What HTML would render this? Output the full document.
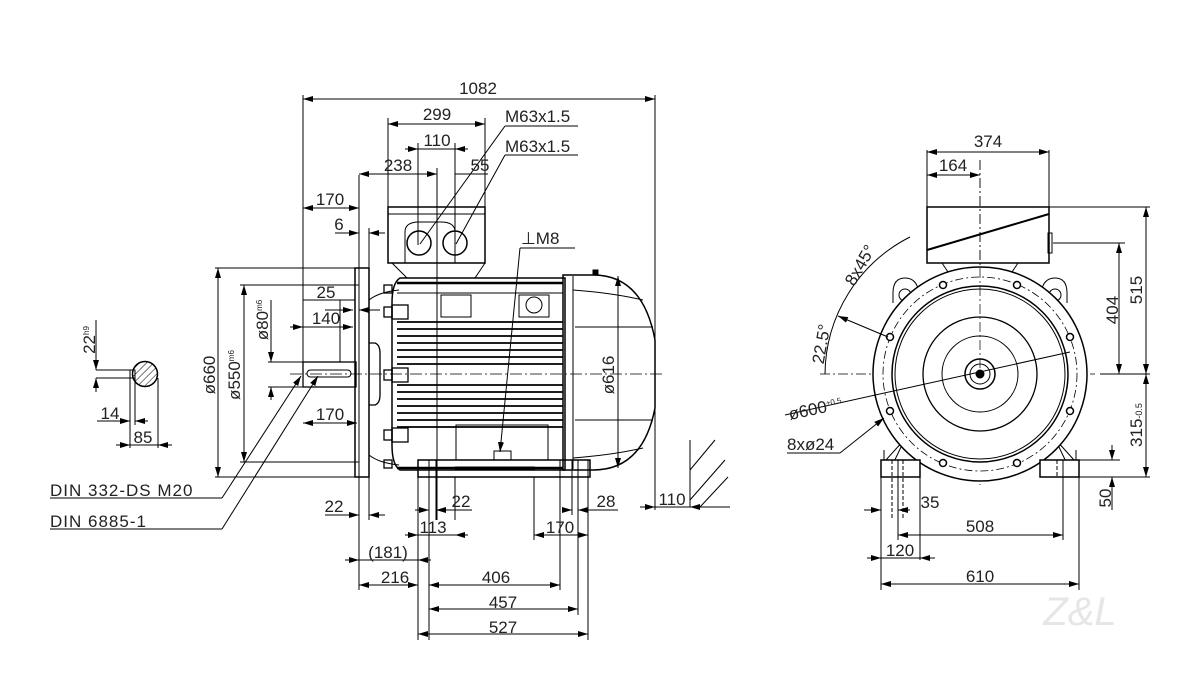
<!DOCTYPE html>
<html><head><meta charset="utf-8"><style>
html,body{margin:0;padding:0;background:#fff}
svg{display:block}
text{font-family:"Liberation Sans",sans-serif;font-size:17px;fill:#222;font-weight:normal}
</style></head><body>
<svg width="1200" height="680" viewBox="0 0 1200 680" xmlns="http://www.w3.org/2000/svg">
<defs>
<marker id="a" viewBox="0 0 10 6" refX="10" refY="3" markerWidth="10" markerHeight="6" orient="auto-start-reverse" markerUnits="userSpaceOnUse"><path d="M0,0L10,3L0,6z" fill="#000"/></marker>
<pattern id="h" width="5" height="5" patternUnits="userSpaceOnUse" patternTransform="rotate(45)"><line x1="0" y1="0" x2="0" y2="5" stroke="#000" stroke-width="1"/></pattern>
</defs>
<g stroke="#000" fill="none" stroke-width="1">
<!-- extension lines left view -->
<line x1="303" y1="95" x2="303" y2="380"/>
<line x1="655" y1="95" x2="655" y2="510"/>
<line x1="388" y1="118" x2="388" y2="207"/>
<line x1="485" y1="118" x2="485" y2="207"/>
<line x1="418" y1="143" x2="418" y2="245"/>
<line x1="455" y1="143" x2="455" y2="245"/>
<line x1="437" y1="168" x2="437" y2="520"/>
<line x1="359" y1="175" x2="359" y2="590"/>
<line x1="369" y1="228" x2="369" y2="520"/>
<!-- dims top -->
<line x1="303" y1="99" x2="655" y2="99" marker-start="url(#a)" marker-end="url(#a)"/>
<line x1="388" y1="124" x2="485" y2="124" marker-start="url(#a)" marker-end="url(#a)"/>
<line x1="405" y1="149" x2="418" y2="149" marker-end="url(#a)"/><line x1="468" y1="149" x2="455" y2="149" marker-end="url(#a)"/><line x1="418" y1="149" x2="455" y2="149"/>
<line x1="359" y1="174" x2="437" y2="174" marker-start="url(#a)" marker-end="url(#a)"/>
<line x1="455" y1="174" x2="488" y2="174"/>
<line x1="303" y1="208" x2="359" y2="208" marker-start="url(#a)" marker-end="url(#a)"/>
<line x1="335" y1="233" x2="359" y2="233" marker-end="url(#a)"/><line x1="385" y1="233" x2="369" y2="233" marker-end="url(#a)"/>
<line x1="505" y1="126" x2="578" y2="126"/><line x1="505" y1="126" x2="420" y2="244"/>
<line x1="505" y1="155" x2="578" y2="155"/><line x1="505" y1="155" x2="456" y2="244"/>
<line x1="520" y1="248" x2="575" y2="248"/><line x1="520" y1="248" x2="500" y2="452" marker-end="url(#a)"/>
<!-- left dims -->
<line x1="215" y1="268" x2="359" y2="268"/>
<line x1="215" y1="477" x2="359" y2="477"/>
<line x1="218" y1="268" x2="218" y2="477" marker-start="url(#a)" marker-end="url(#a)"/>
<line x1="240" y1="285" x2="359" y2="285"/>
<line x1="240" y1="462" x2="359" y2="462"/>
<line x1="244" y1="285" x2="244" y2="462" marker-start="url(#a)" marker-end="url(#a)"/>
<line x1="268" y1="362" x2="303" y2="362"/><line x1="268" y1="387" x2="303" y2="387"/>
<line x1="271" y1="300" x2="271" y2="362" marker-end="url(#a)"/><line x1="271" y1="400" x2="271" y2="387" marker-end="url(#a)"/>
<line x1="303" y1="300" x2="355" y2="300"/>
<line x1="300" y1="327" x2="353" y2="327" marker-end="url(#a)"/><line x1="290" y1="327" x2="303" y2="327" marker-end="url(#a)"/>
<line x1="325" y1="310" x2="353" y2="310" marker-end="url(#a)"/><line x1="380" y1="310" x2="359" y2="310" marker-end="url(#a)"/>
<line x1="303" y1="423" x2="357" y2="423" marker-start="url(#a)" marker-end="url(#a)"/>
<line x1="340" y1="300" x2="340" y2="362"/>
<line x1="50" y1="498" x2="222" y2="498"/><line x1="222" y1="498" x2="301" y2="376" marker-end="url(#a)"/>
<line x1="50" y1="529" x2="222" y2="529"/><line x1="222" y1="529" x2="318" y2="376" marker-end="url(#a)"/>
<!-- key section -->
<circle cx="145" cy="374" r="12.5" fill="url(#h)" stroke-width="1.5"/>
<rect x="130" y="370" width="5" height="8"/>
<line x1="96" y1="370" x2="131" y2="370"/><line x1="96" y1="378" x2="131" y2="378"/>
<line x1="96" y1="320" x2="96" y2="370" marker-end="url(#a)"/><line x1="96" y1="392" x2="96" y2="378" marker-end="url(#a)"/>
<line x1="130" y1="378" x2="130" y2="448"/><line x1="135" y1="378" x2="135" y2="425"/><line x1="158" y1="378" x2="158" y2="448"/>
<line x1="97" y1="421" x2="130" y2="421" marker-end="url(#a)"/><line x1="148" y1="421" x2="135" y2="421" marker-end="url(#a)"/>
<line x1="116" y1="445" x2="130" y2="445" marker-end="url(#a)"/><line x1="172" y1="445" x2="158" y2="445" marker-end="url(#a)"/><line x1="130" y1="445" x2="158" y2="445"/>
<!-- motor left view -->
<line x1="290" y1="374" x2="665" y2="374" stroke-dasharray="12,3,2,3" stroke-width="0.7"/>
<rect x="303" y="362" width="53" height="25" stroke-width="1.3"/>
<rect x="307" y="370" width="44" height="7" rx="3.5"/>
<rect x="355" y="268" width="14" height="209" stroke-width="1.5"/>
<path d="M369 343 h6 q5 2 5 10 v42 q0 8 -5 10 h-6" stroke-width="1.3"/>
<path d="M369 300 q10 -8 30 -10 M369 455 q10 8 30 10"/>
<rect x="388" y="207" width="97" height="56" stroke-width="1.5"/>
<line x1="388" y1="214" x2="485" y2="214"/>
<path d="M405 263 V232 q0-10 14-10 h22 q14 0 14 10 v31"/>
<circle cx="419" cy="243" r="12" stroke-width="1.5"/><circle cx="455" cy="243" r="12" stroke-width="1.5"/>
<path d="M392 263 l15 15 h68 l10 -15"/>
<path d="M400 278 h165 v192 h-165 q-8-5-8-25 v-142 q0-20 8-25z" stroke-width="1.5"/>
<g stroke-width="1.8">
<line x1="397" y1="322" x2="563" y2="322"/><line x1="397" y1="329" x2="563" y2="329"/><line x1="397" y1="336" x2="563" y2="336"/><line x1="397" y1="343" x2="563" y2="343"/><line x1="397" y1="350" x2="563" y2="350"/><line x1="397" y1="357" x2="563" y2="357"/><line x1="397" y1="364" x2="563" y2="364"/><line x1="397" y1="385" x2="563" y2="385"/><line x1="397" y1="392" x2="563" y2="392"/><line x1="397" y1="399" x2="563" y2="399"/><line x1="397" y1="406" x2="563" y2="406"/><line x1="397" y1="413" x2="563" y2="413"/><line x1="397" y1="420" x2="563" y2="420"/><line x1="397" y1="427" x2="563" y2="427"/>
</g>
<line x1="397" y1="283" x2="563" y2="283" stroke-width="2.5"/>
<line x1="397" y1="293" x2="563" y2="293"/>
<rect x="441" y="295" width="30" height="22"/><rect x="519" y="295" width="30" height="22"/>
<circle cx="534" cy="305" r="8"/>
<line x1="397" y1="468" x2="563" y2="468" stroke-width="2.5"/>
<rect x="456" y="425" width="92" height="35"/>
<rect x="494" y="451" width="17" height="9"/>
<g stroke-width="1.3">
<rect x="384" y="285" width="8" height="8"/><rect x="384" y="307" width="8" height="10"/><rect x="392" y="305" width="16" height="14"/>
<rect x="384" y="370" width="8" height="10"/><rect x="392" y="368" width="16" height="14"/>
<rect x="384" y="430" width="8" height="10"/><rect x="392" y="428" width="16" height="14"/>
<rect x="384" y="460" width="8" height="8"/>
</g>
<path d="M563 275 h30 q50 0 62 65 v68 q-12 62 -62 62 h-30z" stroke-width="1.5"/>
<line x1="573" y1="276" x2="573" y2="469"/>
<path d="M573 290 q40 3 70 10 M573 458 q40 -3 70 -10"/>
<line x1="575" y1="327" x2="653" y2="327"/><line x1="575" y1="420" x2="653" y2="420"/>
<rect x="593" y="270" width="5" height="5" fill="#000"/>
<line x1="618" y1="276" x2="618" y2="468" marker-start="url(#a)" marker-end="url(#a)"/>
<rect x="418" y="460" width="172" height="17" stroke-width="1.5"/>
<line x1="455" y1="468" x2="535" y2="468" stroke-width="3"/>
<line x1="429" y1="460" x2="429" y2="540"/><line x1="436" y1="460" x2="436" y2="520"/>
<line x1="455" y1="477" x2="455" y2="520"/><line x1="418" y1="477" x2="418" y2="640"/>
<line x1="534" y1="477" x2="534" y2="540"/><line x1="560" y1="460" x2="560" y2="590"/><line x1="572" y1="460" x2="572" y2="515"/><line x1="578" y1="460" x2="578" y2="615"/><line x1="588" y1="460" x2="588" y2="640"/>
<line x1="429" y1="477" x2="429" y2="640"/>
<!-- bottom dims -->
<line x1="325" y1="515" x2="359" y2="515" marker-end="url(#a)"/><line x1="385" y1="515" x2="369" y2="515" marker-end="url(#a)"/>
<line x1="415" y1="510" x2="429" y2="510" marker-end="url(#a)"/><line x1="460" y1="510" x2="436" y2="510" marker-end="url(#a)"/><line x1="436" y1="510" x2="472" y2="510"/>
<line x1="562" y1="510" x2="572" y2="510" marker-end="url(#a)"/><line x1="600" y1="510" x2="578" y2="510" marker-end="url(#a)"/><line x1="578" y1="510" x2="618" y2="510"/>
<line x1="405" y1="535" x2="418" y2="535" marker-end="url(#a)"/><line x1="468" y1="535" x2="455" y2="535" marker-end="url(#a)"/><line x1="418" y1="535" x2="455" y2="535"/>
<line x1="534" y1="535" x2="588" y2="535" marker-start="url(#a)" marker-end="url(#a)"/>
<line x1="345" y1="560" x2="359" y2="560" marker-end="url(#a)"/><line x1="431" y1="560" x2="418" y2="560" marker-end="url(#a)"/><line x1="359" y1="560" x2="418" y2="560"/>
<line x1="359" y1="585" x2="418" y2="585" marker-start="url(#a)" marker-end="url(#a)"/>
<line x1="429" y1="585" x2="560" y2="585" marker-start="url(#a)" marker-end="url(#a)"/>
<line x1="429" y1="609" x2="578" y2="609" marker-start="url(#a)" marker-end="url(#a)"/>
<line x1="418" y1="634" x2="588" y2="634" marker-start="url(#a)" marker-end="url(#a)"/>
<line x1="640" y1="507" x2="655" y2="507" marker-end="url(#a)"/><line x1="730" y1="507" x2="690" y2="507" marker-end="url(#a)"/><line x1="655" y1="507" x2="690" y2="507"/>
<line x1="690" y1="440" x2="690" y2="507"/>
<line x1="690" y1="470" x2="715" y2="440"/><line x1="690" y1="500" x2="725" y2="460"/><line x1="700" y1="507" x2="728" y2="477"/>
<!-- right view -->
<line x1="980" y1="160" x2="980" y2="485" stroke-dasharray="10,3,2,3" stroke-width="0.7"/>
<line x1="820" y1="374" x2="1095" y2="374" stroke-dasharray="10,3,2,3" stroke-width="0.7"/>
<rect x="927" y="207" width="122" height="56" stroke-width="1.5"/>
<line x1="927" y1="250" x2="1049" y2="214" stroke-width="2"/>
<rect x="1048" y="233" width="4" height="20"/>
<path d="M942 263 l8 12 M1018 263 l-8 12"/>
<path d="M893 293 q0 -15 12 -15 q12 0 14 15 M1041 293 q2 -15 14 -15 q12 0 12 15 M893 293 v10 M1067 293 v10"/>
<circle cx="905" cy="295" r="6"/><circle cx="1055" cy="295" r="6"/>
<path d="M890 470 l12 -25 M1070 470 l-12 -25 M886 460 l18 -20 M1074 460 l-18 -20"/>
<circle cx="980" cy="374" r="107" stroke-width="1.5" fill="#fff"/>
<circle cx="980" cy="374" r="97" stroke-dasharray="8,3,2,3" stroke-width="0.8"/>
<circle cx="980" cy="374" r="88" stroke-width="1.5"/>
<circle cx="980" cy="374" r="85"/>
<circle cx="980" cy="374" r="57" stroke-width="1.3"/>
<circle cx="980" cy="374" r="38"/>
<circle cx="980" cy="374" r="15" stroke-width="1.5"/>
<circle cx="980" cy="374" r="10"/>
<circle cx="980" cy="374" r="4" fill="#000"/>
<g fill="#fff" stroke-width="1.5">
<circle cx="943" cy="285" r="3.5"/><circle cx="1017" cy="285" r="3.5"/><circle cx="1070" cy="337" r="3.5"/><circle cx="1070" cy="411" r="3.5"/><circle cx="1017" cy="463" r="3.5"/><circle cx="943" cy="463" r="3.5"/><circle cx="890" cy="411" r="3.5"/><circle cx="890" cy="337" r="3.5"/>
</g>
<line x1="980" y1="160" x2="980" y2="374" stroke-dasharray="10,3,2,3" stroke-width="0.7"/>
<rect x="881" y="460" width="39" height="17" fill="#fff" stroke-width="1.5"/>
<rect x="1040" y="460" width="39" height="17" fill="#fff" stroke-width="1.5"/>
<line x1="884" y1="450" x2="884" y2="460"/><line x1="1076" y1="450" x2="1076" y2="460"/>
<line x1="892" y1="460" x2="892" y2="520" stroke-dasharray="4,2"/><line x1="898" y1="460" x2="898" y2="540"/><line x1="903" y1="460" x2="903" y2="520" stroke-dasharray="4,2"/>
<line x1="881" y1="477" x2="881" y2="590"/><line x1="920" y1="477" x2="920" y2="560"/>
<line x1="1063" y1="460" x2="1063" y2="540"/><line x1="1079" y1="477" x2="1079" y2="590"/>
<line x1="1057" y1="460" x2="1057" y2="477" stroke-dasharray="4,2"/>
<line x1="927" y1="150" x2="927" y2="207"/><line x1="1049" y1="150" x2="1049" y2="207"/>
<line x1="927" y1="152" x2="1049" y2="152" marker-start="url(#a)" marker-end="url(#a)"/>
<line x1="927" y1="175" x2="980" y2="175" marker-start="url(#a)" marker-end="url(#a)"/>
<line x1="1049" y1="207" x2="1150" y2="207"/><line x1="1053" y1="243" x2="1125" y2="243"/>
<line x1="1100" y1="374" x2="1150" y2="374"/><line x1="1079" y1="477" x2="1150" y2="477"/><line x1="1079" y1="460" x2="1120" y2="460"/>
<line x1="1146" y1="207" x2="1146" y2="374" marker-start="url(#a)" marker-end="url(#a)"/>
<line x1="1119" y1="243" x2="1119" y2="374" marker-start="url(#a)" marker-end="url(#a)"/>
<line x1="1146" y1="374" x2="1146" y2="477" marker-start="url(#a)" marker-end="url(#a)"/>
<line x1="1112" y1="445" x2="1112" y2="460" marker-end="url(#a)"/><line x1="1112" y1="510" x2="1112" y2="477" marker-end="url(#a)"/>
<line x1="864" y1="510" x2="881" y2="510" marker-end="url(#a)"/><line x1="910" y1="510" x2="898" y2="510" marker-end="url(#a)"/>
<line x1="898" y1="535" x2="1063" y2="535" marker-start="url(#a)" marker-end="url(#a)"/>
<line x1="867" y1="558" x2="881" y2="558" marker-end="url(#a)"/><line x1="935" y1="558" x2="920" y2="558" marker-end="url(#a)"/><line x1="881" y1="558" x2="920" y2="558"/>
<line x1="881" y1="584" x2="1079" y2="584" marker-start="url(#a)" marker-end="url(#a)"/>
<path d="M825 374 A155 155 0 0 1 910 237" />
<line x1="838" y1="316" x2="888" y2="337" marker-start="url(#a)"/>
<line x1="785" y1="415" x2="1070" y2="352"/>
<line x1="787" y1="453" x2="840" y2="453"/><line x1="840" y1="453" x2="884" y2="418" marker-end="url(#a)"/>
</g>
<!-- texts -->
<g>
<text x="478" y="94" text-anchor="middle">1082</text>
<text x="437" y="120" text-anchor="middle">299</text>
<text x="437" y="146" text-anchor="middle">110</text>
<text x="398" y="171" text-anchor="middle">238</text>
<text x="480" y="171" text-anchor="middle">55</text>
<text x="505" y="122">M63x1.5</text>
<text x="505" y="152">M63x1.5</text>
<text x="330" y="205" text-anchor="middle">170</text>
<text x="339" y="230" text-anchor="middle">6</text>
<text x="521" y="244">⊥M8</text>
<text x="326" y="298" text-anchor="middle">25</text>
<text x="326" y="324" text-anchor="middle">140</text>
<text x="330" y="420" text-anchor="middle">170</text>
<text x="334" y="512" text-anchor="middle">22</text>
<text x="433" y="533" text-anchor="middle">113</text>
<text x="461" y="507" text-anchor="middle">22</text>
<text x="560" y="533" text-anchor="middle">170</text>
<text x="606" y="507" text-anchor="middle">28</text>
<text x="672" y="505" text-anchor="middle">110</text>
<text x="388" y="558" text-anchor="middle">(181)</text>
<text x="395" y="583" text-anchor="middle">216</text>
<text x="496" y="583" text-anchor="middle">406</text>
<text x="503" y="608" text-anchor="middle">457</text>
<text x="503" y="633" text-anchor="middle">527</text>
<text x="50" y="496" letter-spacing="1">DIN 332-DS M20</text>
<text x="50" y="527" letter-spacing="1">DIN 6885-1</text>
<text x="110" y="419" text-anchor="middle">14</text>
<text x="143" y="443" text-anchor="middle">85</text>
<text transform="translate(95,340) rotate(-90)" text-anchor="middle">22<tspan font-size="8" dy="-6">h9</tspan></text>
<text transform="translate(215,375) rotate(-90)" text-anchor="middle">ø660</text>
<text transform="translate(240,375) rotate(-90)" text-anchor="middle">ø550<tspan font-size="8" dy="-6">m6</tspan></text>
<text transform="translate(268,320) rotate(-90)" text-anchor="middle">ø80<tspan font-size="8" dy="-6">m6</tspan></text>
<text transform="translate(614,375) rotate(-90)" text-anchor="middle">ø616</text>
<text x="988" y="147" text-anchor="middle">374</text>
<text x="953" y="171" text-anchor="middle">164</text>
<text transform="translate(1118,310) rotate(-90)" text-anchor="middle">404</text>
<text transform="translate(1142,290) rotate(-90)" text-anchor="middle">515</text>
<text transform="translate(1142,425) rotate(-90)" text-anchor="middle">315<tspan font-size="9">-0.5</tspan></text>
<text transform="translate(1111,498) rotate(-90)" text-anchor="middle">50</text>
<text transform="translate(865,268) rotate(-60)" text-anchor="middle">8x45°</text>
<text transform="translate(827,345) rotate(-80)" text-anchor="middle">22.5°</text>
<text transform="translate(790,420) rotate(-12)">ø600<tspan font-size="8" dy="-6">±0.5</tspan></text>
<text x="787" y="450">8xø24</text>
<text x="930" y="508" text-anchor="middle">35</text>
<text x="980" y="532" text-anchor="middle">508</text>
<text x="900" y="556" text-anchor="middle">120</text>
<text x="980" y="582" text-anchor="middle">610</text>
<text x="1080" y="625" text-anchor="middle" style="font-size:40px;fill:#e6e6e6;font-style:italic">Z&amp;L</text>
</g>
</svg>
</body></html>
